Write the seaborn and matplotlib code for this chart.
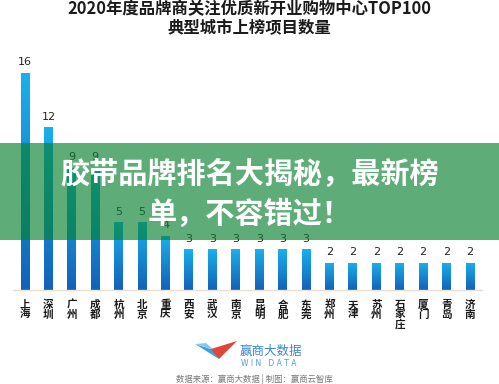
import numpy as np
import pandas as pd
import matplotlib
matplotlib.use("Agg")
import matplotlib.pyplot as plt
import seaborn as sns
from matplotlib.colors import LinearSegmentedColormap
from matplotlib.patches import Rectangle, Polygon

cities = ["上海", "深圳", "广州", "成都", "杭州", "北京", "重庆", "西安", "武汉", "南京",
          "昆明", "合肥", "东莞", "郑州", "天津", "苏州", "石家庄", "厦门", "青岛", "济南"]
counts = [16, 12, 9, 9, 5, 5, 4, 3, 3, 3, 3, 3, 3, 2, 2, 2, 2, 2, 2, 2]
title_lines = ["2020年度品牌商关注优质新开业购物中心TOP100", "典型城市上榜项目数量"]
banner_lines = ["胶带品牌排名大揭秘，最新榜", "单，不容错过！"]
source_text = "数据来源：赢商大数据 | 制图：赢商云智库"

sns.set_style("white")
plt.rcParams['font.family'] = ['Noto Sans CJK SC', 'DejaVu Sans']

W, H = 499, 384
fig = plt.figure(figsize=(W / 100, H / 100), dpi=100)
fig.patch.set_facecolor("white")

# axes geometry in pixels
step = 23.42
x_first = 25
left_px = x_first - step / 2
base_px = 290
top_px = 50
ax = fig.add_axes([left_px / W, (H - base_px) / H, 20 * step / W, (base_px - top_px) / H])

df = pd.DataFrame({"city": cities, "count": counts})
sns.barplot(data=df, x="city", y="count", ax=ax, color="#1A8FD8", width=0.38,
            saturation=1, zorder=2)

cmap = LinearSegmentedColormap.from_list("g", ["#1262B8", "#1AB0EC"])
grad = np.linspace(0, 1, 256).reshape(-1, 1)
for p in list(ax.patches):
    x0, y0 = p.get_x(), p.get_y()
    w, h = p.get_width(), p.get_height()
    im = ax.imshow(grad, extent=[x0, x0 + w, y0, y0 + h], origin="lower",
                   aspect="auto", cmap=cmap, zorder=2)
    im.set_clip_path(p)
    p.set_facecolor("none")
    p.set_edgecolor("none")

ymax = (base_px - top_px) / (217 / 16)
ax.set_xlim(-0.5, len(cities) - 0.5)
ax.set_ylim(0, ymax)
ax.set_aspect("auto")

for i, v in enumerate(counts):
    ax.annotate(str(v), (i, v), xytext=(0, 4), textcoords="offset points",
                ha="center", va="bottom", fontsize=8, color="#222222",
                family=['Liberation Sans Narrow', 'DejaVu Sans'])

ax.set_xticks(range(len(cities)))
ax.set_xticklabels(["\n".join(c) for c in cities], fontsize=7.6, fontweight="heavy",
                   color="#1a1a1a", linespacing=0.95, va="top")
ax.tick_params(axis="x", length=0, pad=7)
ax.set_yticks([])
ax.set_xlabel("")
ax.set_ylabel("")
for s in ["top", "right", "left"]:
    ax.spines[s].set_visible(False)
ax.spines["bottom"].set_color("#EADFD3")
ax.spines["bottom"].set_linewidth(1)
ax.set_facecolor("none")

# titles
fig.text(0.5, 1 - 9 / H, title_lines[0], ha="center", va="center", fontsize=11.8,
         fontweight="bold", color="#1a1a1a")
fig.text(0.5, 1 - 28 / H, title_lines[1], ha="center", va="center", fontsize=11.8,
         fontweight="bold", color="#1a1a1a")

# banner
rect = Rectangle((0, (H - 240) / H), 1, 97 / H, transform=fig.transFigure,
                 facecolor=(0.03, 0.51, 0.19), alpha=0.65, edgecolor="none", zorder=5)
fig.add_artist(rect)
fig.text(0.5, 1 - 174 / H, banner_lines[0], ha="center", va="center", fontsize=21,
         fontweight="black", color="white", zorder=6)
fig.text(0.5, 1 - 214 / H, banner_lines[1], ha="center", va="center", fontsize=21,
         fontweight="black", color="white", zorder=6)

# logo
def px(x, y):
    return (x / W, 1 - y / H)

blue_wing = Polygon([px(195, 344), px(219, 359), px(214, 350)], closed=True,
                    transform=fig.transFigure, facecolor="#3AA0E0", edgecolor="none")
blue_wing2 = Polygon([px(195, 344), px(214, 350), px(206, 343)], closed=True,
                     transform=fig.transFigure, facecolor="#86C8EE", edgecolor="none")
red_wing = Polygon([px(237, 341), px(219, 359), px(211, 349)], closed=True,
                   transform=fig.transFigure, facecolor="#E0453A", edgecolor="none")
for pg in (blue_wing, blue_wing2, red_wing):
    fig.add_artist(pg)
fig.text(240 / W, 1 - 351 / H, "赢商大数据", ha="left", va="center", fontsize=9,
         color="#3B86CC")
fig.text(241 / W, 1 - 363 / H, "W I N   D A T A", ha="left", va="center", fontsize=5.5,
         color="#5A9AD6", family=["DejaVu Sans"])
fig.text(254 / W, 1 - 379 / H, source_text, ha="center", va="center", fontsize=6,
         color="#777777")

fig.savefig("out.png", dpi=100, facecolor="white")
